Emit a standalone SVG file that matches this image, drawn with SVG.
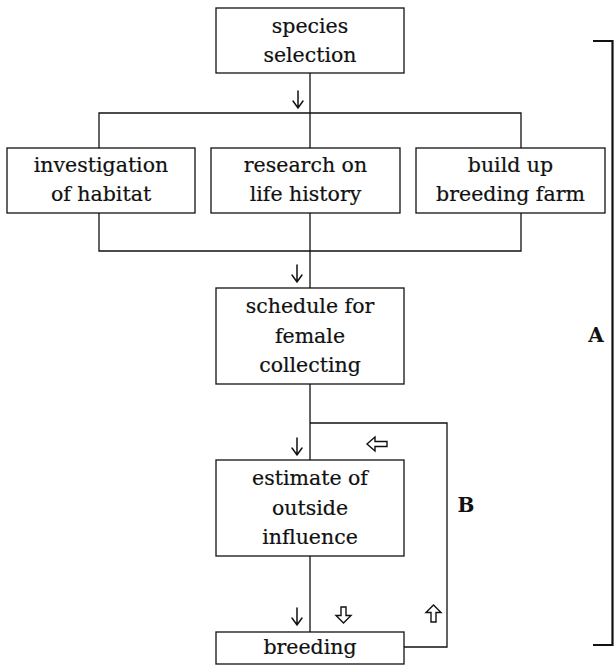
<svg xmlns="http://www.w3.org/2000/svg" width="614" height="667" viewBox="0 0 614 667">
<style>
  .box { fill: #fff; stroke: #111; stroke-width: 1.3; }
  .t { font-family: "DejaVu Serif", "Liberation Serif", serif; font-size: 20.5px; fill: #111; stroke: #111; stroke-width: 0.2; text-anchor: middle; }
  .lbl { font-family: "DejaVu Serif", "Liberation Serif", serif; font-size: 20px; font-weight: bold; fill: #111; text-anchor: middle; }
  .ln { fill: none; stroke: #111; stroke-width: 1.3; }
  .arr { fill: none; stroke: #111; stroke-width: 1.5; stroke-linecap: round; stroke-linejoin: miter; }
  .harr { fill: #fff; stroke: #111; stroke-width: 1.4; stroke-linejoin: miter; }
  .br { fill: none; stroke: #111; stroke-width: 2.2; }
</style>
<rect width="614" height="667" fill="#fff"/>
<g id="connectors">
  <path class="ln" d="M310 73 V148"/>
  <path class="ln" d="M99 148 V113 H521 V148"/>
  <path class="ln" d="M99 213 V251 H521 V213"/>
  <path class="ln" d="M310 213 V288"/>
  <path class="ln" d="M310 384 V460"/>
  <path class="ln" d="M310 423 H447 V647 H404"/>
  <path class="ln" d="M310 556 V632"/>
  <path class="arr" d="M298 91 V108 M293 101 L298 108 L303 101"/>
  <path class="arr" d="M297 265 V282 M292 275 L297 282 L302 275"/>
  <path class="arr" d="M297 438 V455 M292 448 L297 455 L302 448"/>
  <path class="arr" d="M297 608 V625 M292 618 L297 625 L302 618"/>
  <path class="harr" d="M367 444 L375 437 V441.5 H387 V446.5 H375 V451 Z"/>
  <path class="harr" d="M343.5 623 L336 615.5 H341 V607 H346 V615.5 H351 Z"/>
  <path class="harr" d="M433.5 605 L441 612.5 H436 V622 H431 V612.5 H426 Z"/>
</g>
<g id="bracketA">
  <path class="br" d="M593 41 H612.5 V645 H593"/>
  <text class="lbl" x="596" y="342">A</text>
</g>
<g id="loopB">
  <text class="lbl" x="466" y="512">B</text>
</g>
<g id="species-selection">
  <rect class="box" x="216" y="8" width="188" height="65"/>
  <text class="t" x="310" y="33">species</text>
  <text class="t" x="310" y="62">selection</text>
</g>
<g id="investigation-of-habitat">
  <rect class="box" x="7" y="148" width="188" height="65"/>
  <text class="t" x="101" y="172">investigation</text>
  <text class="t" x="101" y="201">of habitat</text>
</g>
<g id="research-on-life-history">
  <rect class="box" x="211" y="148" width="189" height="65"/>
  <text class="t" x="305.5" y="172">research on</text>
  <text class="t" x="305.5" y="201">life history</text>
</g>
<g id="build-up-breeding-farm">
  <rect class="box" x="416" y="148" width="189" height="65"/>
  <text class="t" x="510.5" y="172">build up</text>
  <text class="t" x="510.5" y="201">breeding farm</text>
</g>
<g id="schedule-for-female-collecting">
  <rect class="box" x="216" y="288" width="188" height="96"/>
  <text class="t" x="310" y="313">schedule for</text>
  <text class="t" x="310" y="343">female</text>
  <text class="t" x="310" y="372">collecting</text>
</g>
<g id="estimate-of-outside-influence">
  <rect class="box" x="216" y="460" width="188" height="96"/>
  <text class="t" x="310" y="485">estimate of</text>
  <text class="t" x="310" y="515">outside</text>
  <text class="t" x="310" y="544">influence</text>
</g>
<g id="breeding">
  <rect class="box" x="216" y="632" width="188" height="32"/>
  <text class="t" x="310" y="654">breeding</text>
</g>
</svg>
